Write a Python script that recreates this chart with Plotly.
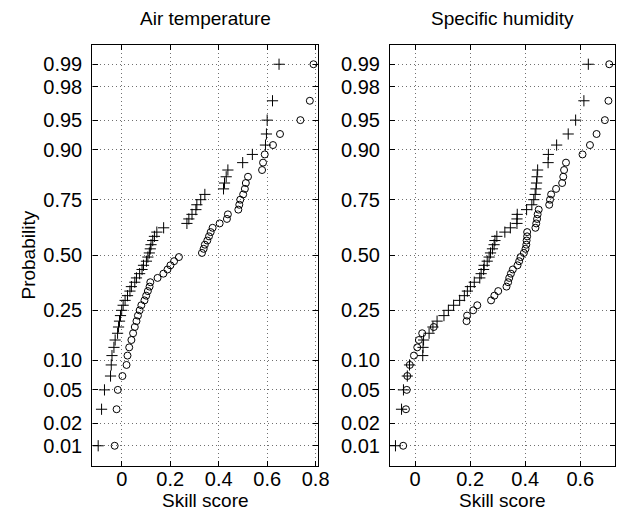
import plotly.graph_objects as go
from statistics import NormalDist

# Skill scores (sorted samples)
air_plus = [-0.097, -0.083, -0.071, -0.046, -0.043, -0.040, -0.032, -0.027, -0.017, -0.013,
            -0.009, -0.005, 0.000, 0.006, 0.014, 0.024, 0.034, 0.040, 0.054, 0.061,
            0.074, 0.084, 0.090, 0.102, 0.108, 0.114, 0.118, 0.121, 0.128, 0.135,
            0.145, 0.173, 0.269, 0.277, 0.290, 0.306, 0.310, 0.326, 0.343, 0.420,
            0.424, 0.431, 0.438, 0.499, 0.539, 0.593, 0.597, 0.600, 0.622, 0.649]
air_circ = [-0.029, -0.021, -0.016, 0.003, 0.020, 0.024, 0.031, 0.040, 0.047, 0.054,
            0.061, 0.067, 0.074, 0.081, 0.094, 0.101, 0.108, 0.115, 0.118, 0.148,
            0.172, 0.189, 0.201, 0.216, 0.236, 0.331, 0.338, 0.343, 0.353, 0.360,
            0.367, 0.375, 0.404, 0.434, 0.438, 0.481, 0.485, 0.489, 0.501, 0.508,
            0.512, 0.521, 0.579, 0.583, 0.590, 0.624, 0.653, 0.737, 0.776, 0.791]
hum_plus = [-0.071, -0.049, -0.042, -0.028, -0.020, 0.028, 0.029, 0.031, 0.051, 0.065,
            0.080, 0.105, 0.121, 0.140, 0.162, 0.179, 0.190, 0.201, 0.215, 0.235,
            0.240, 0.249, 0.251, 0.262, 0.269, 0.274, 0.281, 0.287, 0.290, 0.297,
            0.326, 0.346, 0.370, 0.370, 0.371, 0.405, 0.424, 0.431, 0.436, 0.439,
            0.441, 0.443, 0.445, 0.483, 0.484, 0.514, 0.556, 0.583, 0.613, 0.629]
hum_circ = [-0.043, -0.033, -0.030, -0.028, -0.019, -0.004, 0.008, 0.014, 0.026, 0.068,
            0.187, 0.189, 0.211, 0.226, 0.276, 0.288, 0.302, 0.332, 0.338, 0.342,
            0.348, 0.355, 0.372, 0.378, 0.383, 0.395, 0.401, 0.404, 0.405, 0.407,
            0.407, 0.437, 0.440, 0.443, 0.445, 0.449, 0.487, 0.490, 0.494, 0.512,
            0.534, 0.538, 0.541, 0.548, 0.608, 0.635, 0.659, 0.689, 0.702, 0.705]

prob_ticks = [0.01, 0.02, 0.05, 0.10, 0.25, 0.50, 0.75, 0.90, 0.95, 0.98, 0.99]
prob_labels = ["0.01", "0.02", "0.05", "0.10", "0.25", "0.50", "0.75", "0.90", "0.95", "0.98", "0.99"]
titles = ["Air temperature", "Specific humidity"]
x_ticks_left = [0, 0.2, 0.4, 0.6, 0.8]
x_ticks_right = [0, 0.2, 0.4, 0.6]

nd = NormalDist()


def normplot_positions(vals):
    v = sorted(vals)
    n = len(v)
    q = [nd.inv_cdf((i + 0.5) / n) for i in range(n)]
    return v, q


FONT = "Liberation Sans, Arial, Helvetica, sans-serif"
fig = go.Figure()

for vals, sym, xa, ya, sz in [
    (air_plus, "cross-thin-open", "x", "y", 8),
    (air_circ, "circle-open", "x", "y", 7),
    (hum_plus, "cross-thin-open", "x2", "y2", 8),
    (hum_circ, "circle-open", "x2", "y2", 7),
]:
    xs, qs = normplot_positions(vals)
    fig.add_trace(go.Scatter(
        x=xs, y=qs, mode="markers", xaxis=xa, yaxis=ya, showlegend=False,
        marker=dict(symbol=sym, size=sz, color="black", line=dict(color="black", width=1)),
        hoverinfo="skip"))

qvals = [nd.inv_cdf(p) for p in prob_ticks]
yrange = [-2.573, 2.561]
ydom = [46 / 512, 467 / 512]

axis_common = dict(
    showline=True, linecolor="black", linewidth=1.3, mirror="allticks",
    ticks="inside", ticklen=5, tickcolor="black", tickwidth=1,
    showgrid=True, gridcolor="#707070", griddash="1px,3px", gridwidth=1,
    zeroline=False, tickfont=dict(family=FONT, size=20, color="black"),
)

fig.update_layout(
    width=628, height=512,
    margin=dict(l=0, r=0, t=0, b=0),
    paper_bgcolor="white", plot_bgcolor="white",
    xaxis=dict(domain=[94 / 628, 324 / 628], range=[-0.121, 0.811],
               tickvals=x_ticks_left, ticktext=["0", "0.2", "0.4", "0.6", "0.8"],
               anchor="y", ticklabelstandoff=-5, **axis_common),
    yaxis=dict(domain=ydom, range=yrange, tickvals=qvals, ticktext=prob_labels,
               anchor="x", ticklabelstandoff=5, **axis_common),
    xaxis2=dict(domain=[397 / 628, 626 / 628], range=[-0.0907, 0.726],
                tickvals=x_ticks_right, ticktext=["0", "0.2", "0.4", "0.6"],
                anchor="y2", ticklabelstandoff=-5, **axis_common),
    yaxis2=dict(domain=ydom, range=yrange, tickvals=qvals, ticktext=prob_labels,
                anchor="x2", ticklabelstandoff=5, **axis_common),
)

ann_font = dict(family=FONT, size=19, color="black")
fig.add_annotation(text=titles[0], x=(94 + 324) / 2 / 628, y=1 - 18 / 512, xref="paper", yref="paper",
                   showarrow=False, font=ann_font, xanchor="center", yanchor="middle")
fig.add_annotation(text=titles[1], x=(397 + 626) / 2 / 628, y=1 - 18 / 512, xref="paper", yref="paper",
                   showarrow=False, font=ann_font, xanchor="center", yanchor="middle")
fig.add_annotation(text="Skill score", x=(94 + 324) / 2 / 628, y=1 - 500 / 512, xref="paper", yref="paper",
                   showarrow=False, font=ann_font, xanchor="center", yanchor="middle")
fig.add_annotation(text="Skill score", x=(397 + 626) / 2 / 628, y=1 - 500 / 512, xref="paper", yref="paper",
                   showarrow=False, font=ann_font, xanchor="center", yanchor="middle")
fig.add_annotation(text="Probability", x=28 / 628, y=1 - 255 / 512, xref="paper", yref="paper",
                   showarrow=False, font=ann_font, textangle=-90, xanchor="center", yanchor="middle")

fig.write_html("out.html", config={"displayModeBar": False},
               post_script="document.body.style.margin='0';document.body.style.overflow='hidden';")
